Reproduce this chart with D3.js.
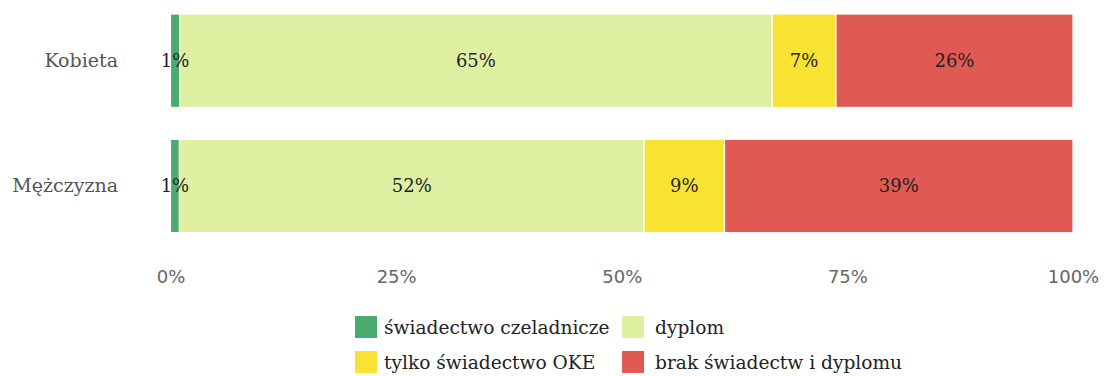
<!DOCTYPE html>
<html>
<head>
<meta charset="utf-8">
<script src="https://cdn.jsdelivr.net/npm/d3@7"></script>
<style>
  html, body { margin: 0; padding: 0; background: #fff; }
  svg { display: block; font-family: "DejaVu Serif", serif; }
</style>
</head>
<body>
<svg id="chart" width="1104" height="376"></svg>
<script>
// Education outcome by gender, shares in percent
const categories = ["Kobieta", "Mężczyzna"];
const seriesNames = ["świadectwo czeladnicze", "dyplom", "tylko świadectwo OKE", "brak świadectw i dyplomu"];
const seriesColors = ["#4aaa6f", "#dff0a3", "#f8e232", "#e05a53"];
const czeladnicze = [1, 1];
const dyplom = [65, 52];
const tylkoOKE = [7, 9];
const brak = [26, 39];
const tickValues = [0, 0.25, 0.5, 0.75, 1];
const tickLabels = ["0%", "25%", "50%", "75%", "100%"];

const seriesValues = [czeladnicze, dyplom, tylkoOKE, brak];
const rows = categories.map((c, i) => {
  const r = { category: c };
  seriesNames.forEach((s, j) => { r[s] = seriesValues[j][i]; });
  return r;
});

const svg = d3.select("#chart");

const x = d3.scaleLinear().domain([0, 1]).range([170.5, 1073]);
const y = d3.scaleBand().domain(categories).range([14, 232.7]).paddingInner(0.254).paddingOuter(0);
const color = d3.scaleOrdinal().domain(seriesNames).range(seriesColors);

const stacked = d3.stack().keys(seriesNames).offset(d3.stackOffsetExpand)(rows);
const segments = stacked.flatMap(layer => layer.map(p => ({ key: layer.key, x0: p[0], x1: p[1], data: p.data })));

// bar segments
svg.append("g").selectAll("rect")
  .data(segments)
  .join("rect")
  .attr("x", d => x(d.x0))
  .attr("y", d => y(d.data.category))
  .attr("width", d => x(d.x1) - x(d.x0))
  .attr("height", y.bandwidth())
  .attr("fill", d => color(d.key))
  .attr("stroke", "#fff")
  .attr("stroke-width", 1.2);

// value labels centred in each segment, drawn above all bars
svg.append("g").selectAll("text")
  .data(segments)
  .join("text")
  .attr("x", d => (x(d.x0) + x(d.x1)) / 2)
  .attr("y", d => y(d.data.category) + y.bandwidth() / 2)
  .attr("dy", "0.36em")
  .attr("text-anchor", "middle")
  .attr("fill", "#222")
  .attr("font-size", 18)
  .text(d => d.data[d.key] + "%");

// category axis
const yAxis = svg.append("g")
  .attr("transform", "translate(118,0)")
  .call(d3.axisLeft(y).tickSize(0).tickPadding(0));
yAxis.select(".domain").remove();
yAxis.selectAll("text")
  .attr("font-family", "DejaVu Serif, serif")
  .attr("font-size", 19)
  .attr("fill", "#555");

// percentage axis
const xAxis = svg.append("g")
  .attr("transform", "translate(0,270)")
  .call(d3.axisBottom(x).tickValues(tickValues).tickFormat((d, i) => tickLabels[i]).tickSize(0).tickPadding(0));
xAxis.select(".domain").remove();
xAxis.selectAll("text")
  .attr("font-family", "DejaVu Sans, sans-serif")
  .attr("font-size", 18)
  .attr("fill", "#666");

// legend in two columns
const legendCols = [355, 622];
const legendRows = [316, 351];
const legend = svg.append("g").selectAll("g")
  .data(seriesNames)
  .join("g")
  .attr("transform", (d, i) => `translate(${legendCols[i % 2]},${legendRows[Math.floor(i / 2)]})`);
legend.append("rect")
  .attr("width", 22)
  .attr("height", 22)
  .attr("fill", d => color(d));
legend.append("text")
  .attr("x", (d, i) => i % 2 ? 33 : 29)
  .attr("y", 11)
  .attr("dy", "0.36em")
  .attr("font-size", 18.6)
  .attr("fill", "#222")
  .text(d => d);
</script>
</body>
</html>
